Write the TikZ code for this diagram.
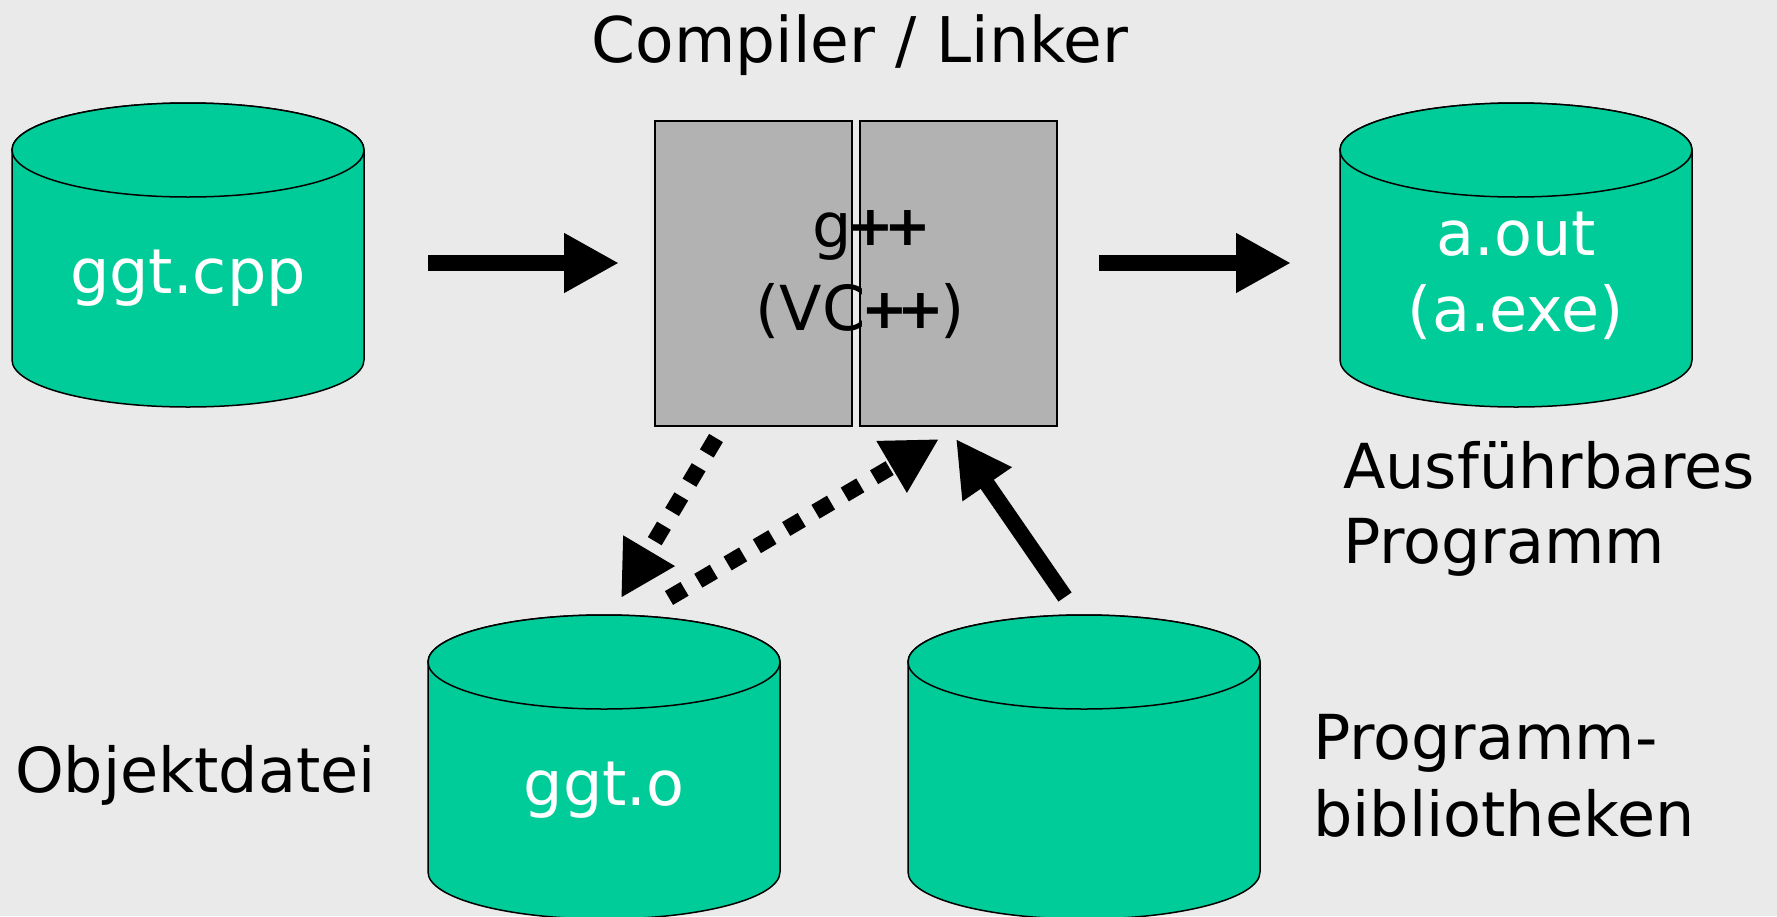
\documentclass[tikz,border=0pt]{standalone}
\usepackage{fontspec}
\setmainfont{DejaVu Sans}
\usetikzlibrary{arrows.meta}
\definecolor{bg}{RGB}{234,234,234}
\definecolor{cylgreen}{RGB}{0,204,153}
\definecolor{boxgray}{RGB}{178,178,178}
\newcommand\mycyl[2]{%
  \filldraw[cylstyle] ({#1-176},{-#2}) -- ({#1-176},{-#2-210})
    arc[start angle=180,end angle=360,x radius=176pt,y radius=47pt]
    -- ({#1+176},{-#2})
    arc[start angle=0,end angle=180,x radius=176pt,y radius=47pt] -- cycle;
  \draw[cylstyle] (#1,-#2) ellipse[x radius=176pt,y radius=47pt];}
\newcommand\plusplus{{\bfseries\kern-0.07em\raisebox{0.02em}{\scalebox{0.9}{+}}\kern-0.17em\raisebox{0.02em}{\scalebox{0.9}{+}}\kern-0.06em}}
\begin{document}
\begin{tikzpicture}[x=1pt,y=1pt,
  cylstyle/.style={fill=cylgreen,draw=black,line width=1.5pt},
  gbox/.style={fill=boxgray,draw=black,line width=1.5pt,minimum width=197pt,minimum height=305pt,inner sep=0pt},
  lbl/.style={font=\fontsize{62}{74}\selectfont,inner sep=0pt,anchor=base},
  wlbl/.style={lbl,text=white},
  solidarrow/.style={line width=16pt,-{Triangle[length=55pt,width=56pt]}},
  dotarrow/.style={line width=16pt,dash pattern=on 18pt off 16pt,-{Triangle[length=55pt,width=56pt]}}]
\fill[bg] (0,0) rectangle (1777,-916);
\useasboundingbox (0,0) rectangle (1777,-916);

% cylinders
\mycyl{188}{150}
\mycyl{1516}{150}
\mycyl{604}{662}
\mycyl{1084}{662}

% compiler boxes
\node[gbox] (compL) at (753.5,-273.5) {};
\node[gbox] (compR) at (958.5,-273.5) {};

% texts
\node[lbl,font=\fontsize{63}{75}\selectfont] (title) at (860,-62) {Compiler / Linker};
\node[wlbl] (cpp) at (188,-293) {ggt.cpp};
\node[wlbl] (aout) at (1516,-255) {a.out};
\node[wlbl] (aexe) at (1516,-331) {(a.exe)};
\node[wlbl] (ggto) at (604,-805) {ggt.o};
\node[lbl] (gpp) at (870,-247) {g\plusplus};
\node[lbl] (vcpp) at (860,-330) {(VC\plusplus)};
\node[lbl,anchor=base west] (ausf) at (1343,-488) {Ausführbares};
\node[lbl,anchor=base west] (prog) at (1343,-563) {Programm};
\node[lbl,anchor=base west] (objd) at (15,-792) {Objektdatei};
\node[lbl,anchor=base west] (progm) at (1313,-759) {Programm-};
\node[lbl,anchor=base west] (bibl) at (1313,-836) {bibliotheken};

% arrow endpoints
\coordinate (s1) at (428,-263);
\coordinate (t1) at (619,-263);
\coordinate (s2) at (1099,-263);
\coordinate (t2) at (1291,-263);
\coordinate (sA) at (716,-438);
\coordinate (tA) at (621,-598);
\coordinate (sB) at (669,-598);
\coordinate (tB) at (939,-439);
\coordinate (sC) at (1065,-597);
\coordinate (tC) at (956,-439);

\draw[solidarrow] (s1) -- (t1);
\draw[solidarrow] (s2) -- (t2);
\draw[dotarrow] (sA) -- (tA);
\draw[dotarrow] (sB) -- (tB);
\draw[solidarrow] (sC) -- (tC);
\end{tikzpicture}
\end{document}
